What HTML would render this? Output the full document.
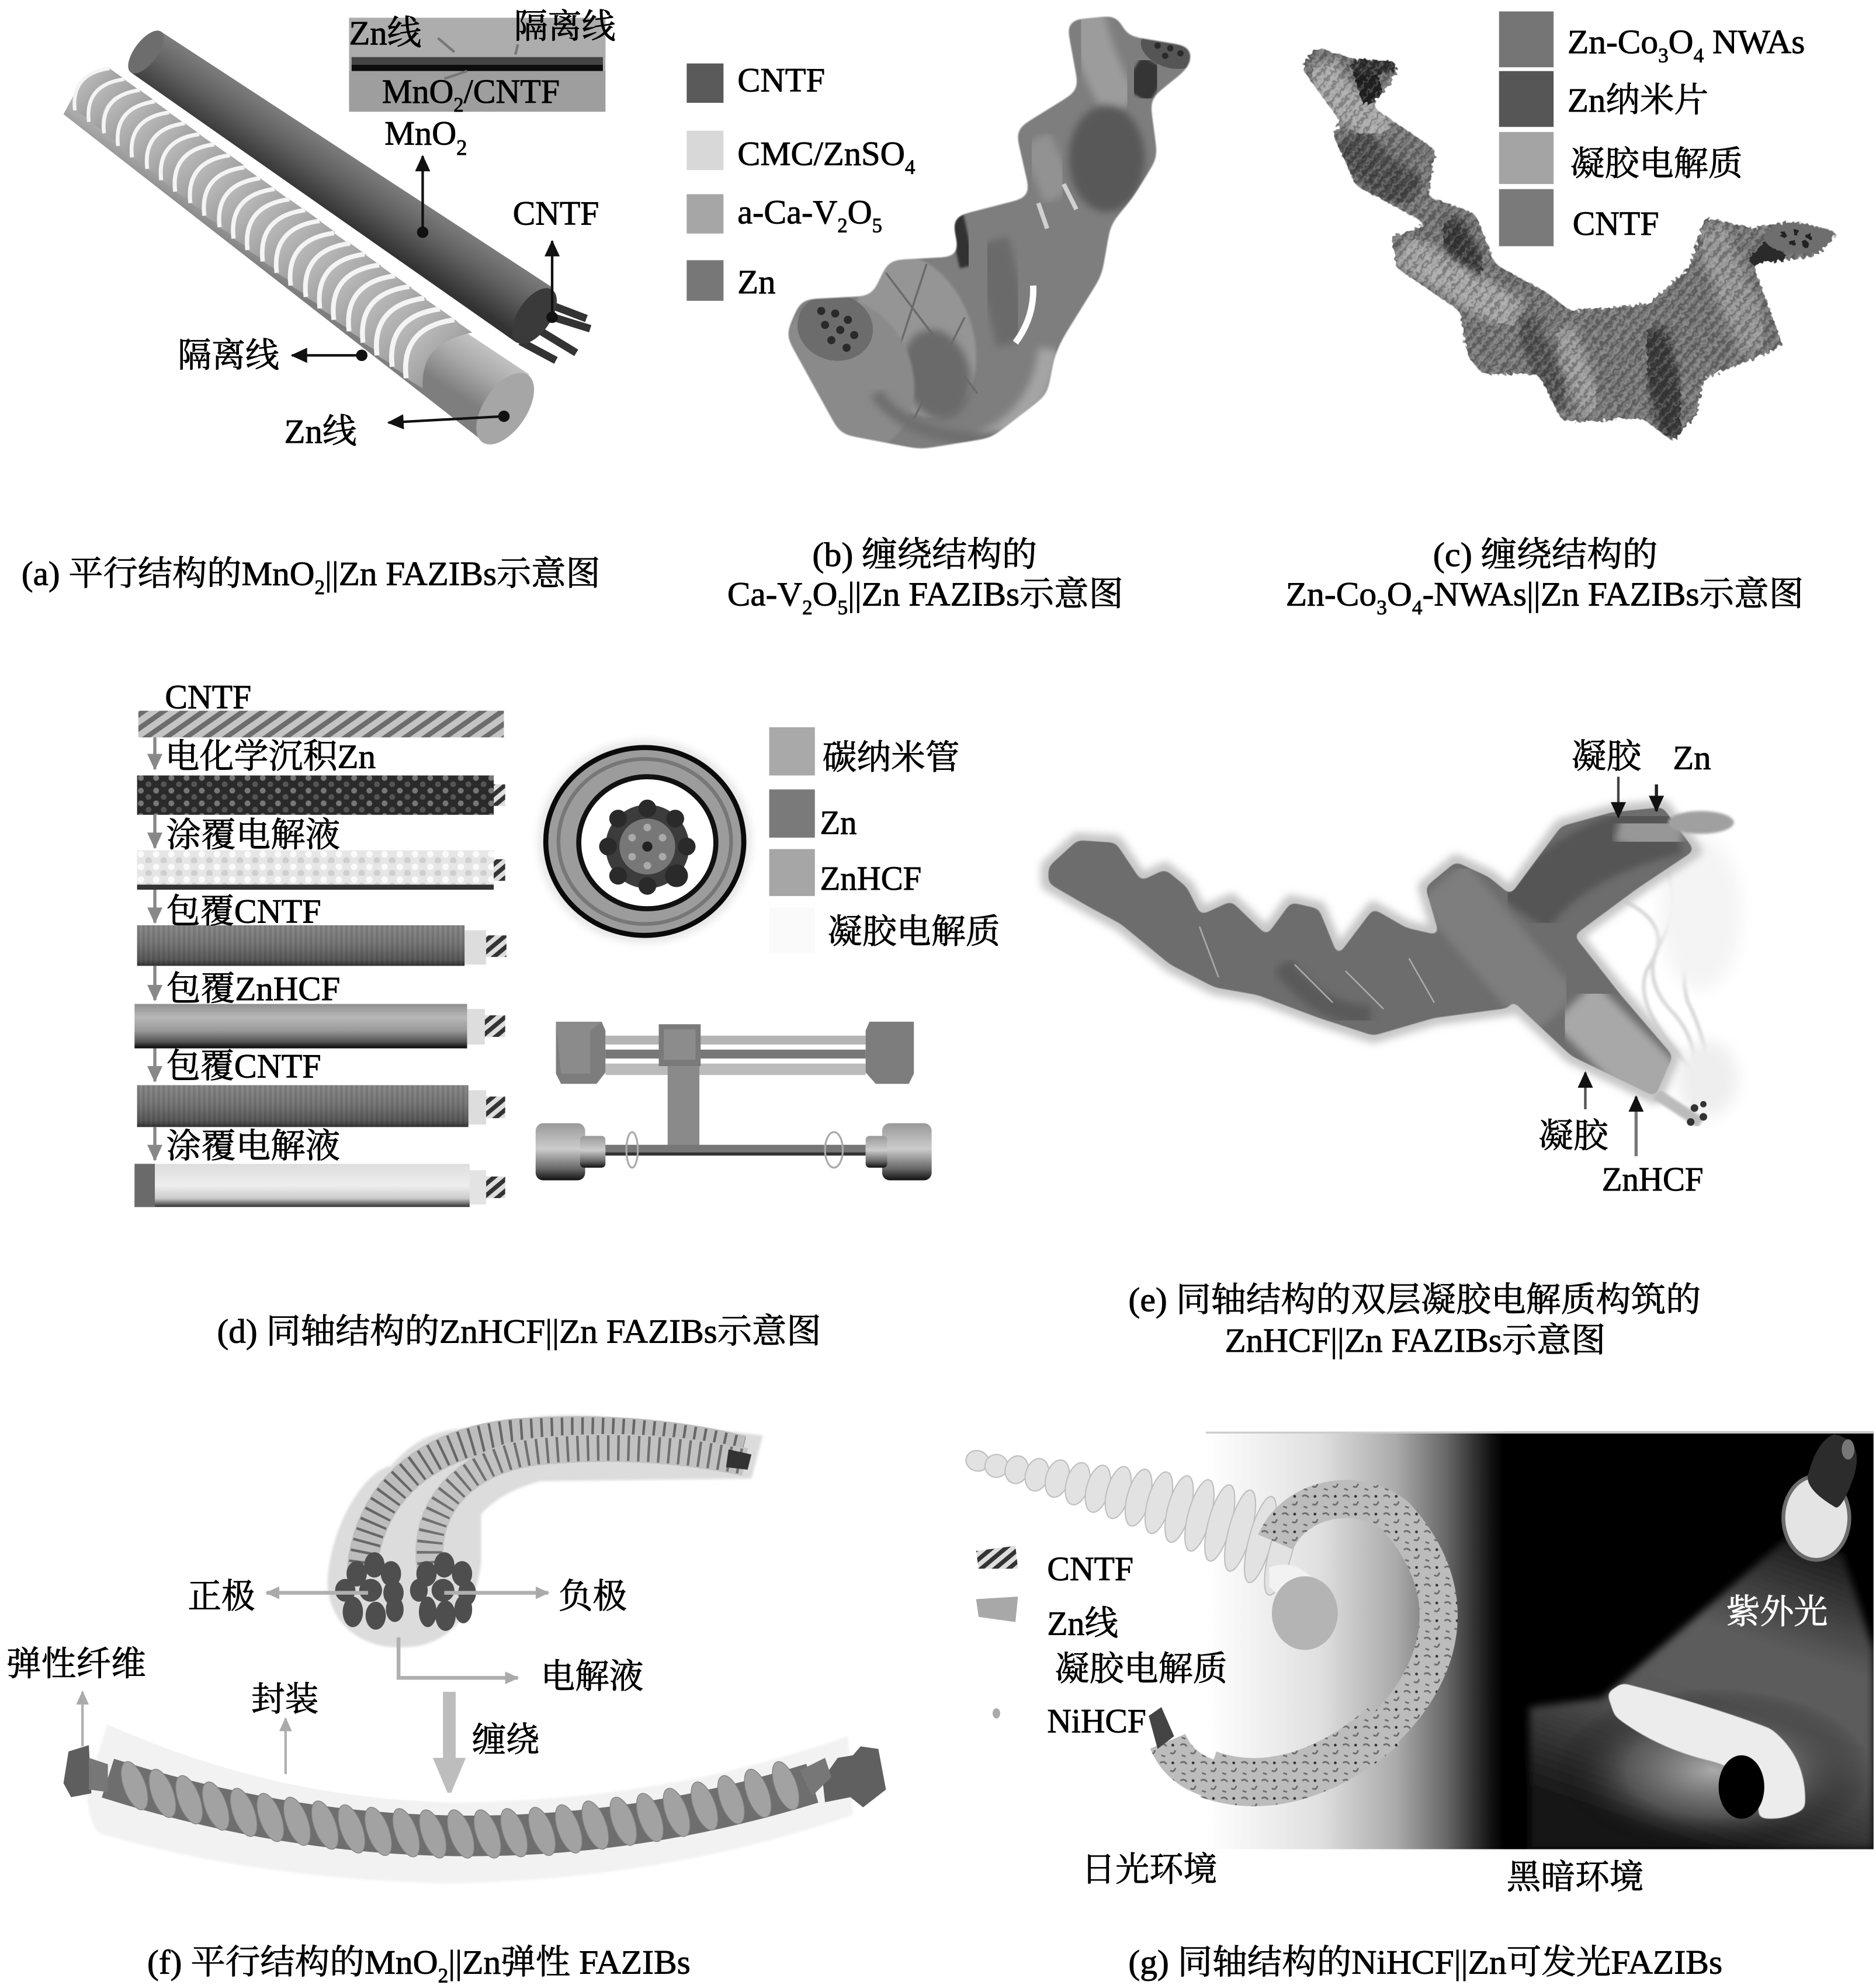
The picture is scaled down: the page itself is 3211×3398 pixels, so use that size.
<!DOCTYPE html>
<html><head><meta charset="utf-8"><style>
html,body{margin:0;padding:0;background:#fff}
svg{display:block}
text{font-family:"Liberation Serif","Noto Serif CJK SC",serif;fill:#000;stroke:#000;stroke-width:.42;font-size:27px}
</style></head><body>
<svg xmlns="http://www.w3.org/2000/svg" width="3211" height="3398" viewBox="0 0 1478 1564" preserveAspectRatio="none">
<defs>
<marker id="aK" markerUnits="userSpaceOnUse" markerWidth="14" markerHeight="12" refX="12" refY="6" orient="auto"><path d="M0,0L13,6L0,12Z" fill="#111"/></marker>
<marker id="aG" markerUnits="userSpaceOnUse" markerWidth="12" markerHeight="10" refX="10" refY="5" orient="auto"><path d="M0,0L11,5L0,10Z" fill="#aaa"/></marker>
<marker id="aD" markerUnits="userSpaceOnUse" markerWidth="14" markerHeight="12" refX="12" refY="6" orient="auto"><path d="M0,0L13,6L0,12Z" fill="#888"/></marker>
<marker id="dot" markerUnits="userSpaceOnUse" markerWidth="10" markerHeight="10" refX="5" refY="5"><circle cx="5" cy="5" r="4.5" fill="#111"/></marker>
<linearGradient id="cylD" gradientUnits="userSpaceOnUse" x1="281" y1="125" x2="255" y2="165"><stop offset="0" stop-color="#7d7d7d"/><stop offset=".45" stop-color="#606060"/><stop offset="1" stop-color="#333"/></linearGradient>
<linearGradient id="cylZ" gradientUnits="userSpaceOnUse" x1="241" y1="178" x2="215" y2="219"><stop offset="0" stop-color="#c6c6c6"/><stop offset=".5" stop-color="#a8a8a8"/><stop offset="1" stop-color="#7e7e7e"/></linearGradient>
<linearGradient id="ribF" x1="0" y1="0" x2="1" y2="1"><stop offset="0" stop-color="#c8c8c8"/><stop offset="1" stop-color="#848484"/></linearGradient>
<g id="rib"><path d="M0,0C-3,-25 8,-42 38,-46L52,-36C26,-30 12,-20 13,8Z" fill="url(#ribF)"/><path d="M0,0C-3,-25 8,-42 38,-46" fill="none" stroke="#f4f4f4" stroke-width="4"/></g>
<linearGradient id="rodD" x1="0" y1="0" x2="0" y2="1"><stop offset="0" stop-color="#8a8a8a"/><stop offset=".45" stop-color="#787878"/><stop offset=".85" stop-color="#5a5a5a"/><stop offset="1" stop-color="#333"/></linearGradient>
<linearGradient id="rodH" x1="0" y1="0" x2="0" y2="1"><stop offset="0" stop-color="#8f8f8f"/><stop offset=".3" stop-color="#b8b8b8"/><stop offset=".6" stop-color="#999"/><stop offset=".85" stop-color="#555"/><stop offset="1" stop-color="#050505"/></linearGradient>
<linearGradient id="rodC" x1="0" y1="0" x2="0" y2="1"><stop offset="0" stop-color="#ddd"/><stop offset=".5" stop-color="#eee"/><stop offset=".8" stop-color="#ccc"/><stop offset=".93" stop-color="#666"/><stop offset="1" stop-color="#333"/></linearGradient>
<linearGradient id="wheel" x1="0" y1="0" x2="0" y2="1"><stop offset="0" stop-color="#999"/><stop offset=".45" stop-color="#ccc"/><stop offset=".8" stop-color="#666"/><stop offset="1" stop-color="#111"/></linearGradient>
<linearGradient id="bgG" gradientUnits="userSpaceOnUse" x1="950" y1="0" x2="1185" y2="0"><stop offset="0" stop-color="#fff"/><stop offset=".38" stop-color="#e0e0e0"/><stop offset=".64" stop-color="#aaa"/><stop offset=".81" stop-color="#666"/><stop offset=".96" stop-color="#111"/><stop offset="1" stop-color="#000"/></linearGradient>
<linearGradient id="coneG" gradientUnits="userSpaceOnUse" x1="1425" y1="1210" x2="1340" y2="1457"><stop offset="0" stop-color="#181818"/><stop offset=".35" stop-color="#5c5c5c"/><stop offset=".6" stop-color="#5a5a5a"/><stop offset="1" stop-color="#161616"/></linearGradient>
<radialGradient id="glow"><stop offset="0" stop-color="#aaa"/><stop offset=".55" stop-color="#666" stop-opacity=".7"/><stop offset="1" stop-color="#000" stop-opacity="0"/></radialGradient>
<pattern id="hatch" width="9" height="9" patternUnits="userSpaceOnUse" patternTransform="rotate(55)"><rect width="9" height="9" fill="#c4c4c4"/><rect width="4" height="9" fill="#6c6c6c"/></pattern>
<pattern id="hatch2" width="7" height="7" patternUnits="userSpaceOnUse" patternTransform="rotate(50)"><rect width="7" height="7" fill="#ddd"/><rect width="3.4" height="7" fill="#333"/></pattern>
<pattern id="znp" width="12" height="10" patternUnits="userSpaceOnUse"><rect width="12" height="10" fill="#2a2a2a"/><circle cx="3" cy="3" r="2.3" fill="#777"/><circle cx="9" cy="8" r="2.3" fill="#555"/></pattern>
<pattern id="znl" width="12" height="10" patternUnits="userSpaceOnUse"><rect width="12" height="10" fill="#e6e6e6"/><circle cx="3" cy="3" r="2.6" fill="#fafafa"/><circle cx="9" cy="8" r="2.6" fill="#cfcfcf"/></pattern>
<pattern id="fine" width="4" height="4" patternUnits="userSpaceOnUse"><rect width="2" height="4" fill="#000" opacity=".1"/></pattern>
<pattern id="hairs" width="7" height="7" patternUnits="userSpaceOnUse" patternTransform="rotate(40)"><rect width="2" height="7" fill="#000" opacity=".22"/><rect x="4" width="1.5" height="7" fill="#fff" opacity=".16"/></pattern>
<pattern id="ringT" width="16" height="14" patternUnits="userSpaceOnUse"><rect width="16" height="14" fill="#bcbcbc"/><path d="M2,3q3,-2 5,1M10,9q3,2 4,-2M3,11l3,1" stroke="#6c6c6c" stroke-width="1.3" fill="none"/><circle cx="12" cy="3" r="1.1" fill="#333"/></pattern>
<filter id="b1" x="-10%" y="-10%" width="120%" height="120%"><feGaussianBlur stdDeviation="1"/></filter>
<filter id="b3" x="-10%" y="-10%" width="120%" height="120%"><feGaussianBlur stdDeviation="3"/></filter>
<filter id="b5" x="-20%" y="-20%" width="140%" height="140%"><feGaussianBlur stdDeviation="6"/></filter>
<filter id="smooth" x="-10%" y="-10%" width="120%" height="120%"><feGaussianBlur stdDeviation="6"/><feComponentTransfer><feFuncA type="linear" slope="10" intercept="-4.5"/></feComponentTransfer></filter>
<filter id="smallS" x="-10%" y="-10%" width="120%" height="120%"><feGaussianBlur stdDeviation="3"/><feComponentTransfer><feFuncA type="linear" slope="8" intercept="-3.5"/></feComponentTransfer></filter>
<filter id="jag" x="-5%" y="-5%" width="110%" height="110%"><feTurbulence type="fractalNoise" baseFrequency=".35" numOctaves="1" seed="3"/><feDisplacementMap in="SourceGraphic" scale="6"/></filter>
<path id="sb" d="M840,16L881,12L887,28L940,37L937,53L906,78L912,124L893,155L875,177L868,217L837,267L831,280L825,311L781,345L725,354L662,342L619,264L631,236L687,233L700,205L756,202L750,171L812,155L800,102L850,71Z"/>
<path id="sc" d="M1025,53L1037,37L1068,47L1100,48L1100,59L1081,84L1131,118L1125,155L1162,168L1178,208L1218,230L1237,245L1275,242L1299,239L1331,211L1343,171L1381,180L1412,174L1449,183L1431,202L1381,208L1405,273L1343,298L1337,326L1318,348L1293,329L1256,332L1231,332L1212,295L1168,295L1156,280L1150,245L1100,211L1096,186L1125,177L1068,146L1050,106L1056,96Z"/>
<path id="se" d="M826,683L849,662L879,664L899,694L918,685L935,699L946,721L970,710L998,737L1017,711L1039,716L1054,753L1082,716L1108,731L1134,737L1123,699L1147,679L1173,691L1190,705L1230,651L1270,640L1310,636L1335,670L1290,700L1240,737L1277,784L1318,832L1304,864L1238,832L1190,787L1190,794L1130,802L1082,816L1039,802L991,784L957,778L922,760L883,728L857,714L826,696Z"/>
<mask id="mb" maskUnits="userSpaceOnUse" x="580" y="0" width="400" height="380"><use href="#sb" fill="#fff" filter="url(#smooth)"/></mask>
<mask id="mc" maskUnits="userSpaceOnUse" x="1000" y="10" width="470" height="360"><use href="#sc" fill="#fff" filter="url(#smallS)"/></mask>
<mask id="me" maskUnits="userSpaceOnUse" x="800" y="610" width="560" height="280"><use href="#se" fill="#fff" filter="url(#smallS)"/></mask>
</defs>
<rect width="1478" height="1564" fill="#fff"/>

<!-- (a) -->
<g>
<path d="M65,62L417,295L381,348L50,90Z" fill="url(#cylZ)"/>
<use href="#rib" transform="translate(59,87) scale(.72)"/><use href="#rib" transform="translate(70,96) scale(.73)"/><use href="#rib" transform="translate(82,105) scale(.74)"/><use href="#rib" transform="translate(93,115) scale(.76)"/><use href="#rib" transform="translate(104,124) scale(.77)"/><use href="#rib" transform="translate(116,133) scale(.78)"/><use href="#rib" transform="translate(127,142) scale(.79)"/><use href="#rib" transform="translate(138,151) scale(.81)"/><use href="#rib" transform="translate(150,160) scale(.82)"/><use href="#rib" transform="translate(161,170) scale(.83)"/><use href="#rib" transform="translate(173,179) scale(.84)"/><use href="#rib" transform="translate(184,188) scale(.85)"/><use href="#rib" transform="translate(195,197) scale(.87)"/><use href="#rib" transform="translate(207,206) scale(.88)"/><use href="#rib" transform="translate(218,215) scale(.89)"/><use href="#rib" transform="translate(229,225) scale(.9)"/><use href="#rib" transform="translate(241,234) scale(.92)"/><use href="#rib" transform="translate(252,243) scale(.93)"/><use href="#rib" transform="translate(263,252) scale(.94)"/><use href="#rib" transform="translate(275,261) scale(.95)"/><use href="#rib" transform="translate(286,270) scale(.96)"/><use href="#rib" transform="translate(297,280) scale(.98)"/><use href="#rib" transform="translate(309,289) scale(.99)"/><use href="#rib" transform="translate(320,298)"/>
<ellipse cx="398" cy="322" rx="17" ry="32" transform="rotate(34 398 322)" fill="#a6a6a6"/>
<path d="M127,25L436,227L407,270L103,57Z" fill="url(#cylD)"/>
<ellipse cx="115" cy="41" rx="9" ry="20" transform="rotate(37 115 41)" fill="#6d6d6d"/>
<path d="M420,245L465,259M413,253L454,278M410,269L438,284M428,238L462,251" stroke="#333" stroke-width="6" fill="none"/>
<ellipse cx="421" cy="249" rx="13" ry="25" transform="rotate(34 421 249)" fill="#3a3a3a"/>
<rect x="275" y="14" width="202" height="74" fill="#a9a9a9"/>
<rect x="275" y="14" width="202" height="30" fill="#adadad"/>
<rect x="277" y="45" width="198" height="6" fill="#444"/>
<rect x="277" y="51" width="198" height="5" fill="#0c0c0c"/>
<rect x="275" y="56" width="202" height="32" fill="#9e9e9e"/>
<path d="M345,30L358,41M408,35L406,43M350,62L368,56" stroke="#777" stroke-width="2" fill="none"/>
<path d="M333,183L333,123" stroke="#111" stroke-width="2" fill="none" marker-start="url(#dot)" marker-end="url(#aK)"/>
<path d="M435,250L435,190" stroke="#111" stroke-width="2" fill="none" marker-start="url(#dot)" marker-end="url(#aK)"/>
<path d="M285,280L230,280" stroke="#111" stroke-width="2" fill="none" marker-start="url(#dot)" marker-end="url(#aK)"/>
<path d="M397,328L306,333" stroke="#111" stroke-width="2" fill="none" marker-start="url(#dot)" marker-end="url(#aK)"/>
<text x="275" y="35" textLength="57" lengthAdjust="spacingAndGlyphs">Zn线</text>
<text x="405" y="30" textLength="80" lengthAdjust="spacingAndGlyphs">隔离线</text>
<text x="301" y="81" textLength="140" lengthAdjust="spacingAndGlyphs">MnO<tspan dy="7" font-size="16">2</tspan><tspan dy="-7">/CNTF</tspan></text>
<text x="303" y="114" textLength="65" lengthAdjust="spacingAndGlyphs">MnO<tspan dy="8" font-size="17">2</tspan></text>
<text x="404" y="177" textLength="68" lengthAdjust="spacingAndGlyphs">CNTF</text>
<text x="140" y="289" textLength="80" lengthAdjust="spacingAndGlyphs">隔离线</text>
<text x="224" y="349" textLength="57" lengthAdjust="spacingAndGlyphs">Zn线</text>
<text x="17" y="461" textLength="456" lengthAdjust="spacingAndGlyphs">(a) 平行结构的MnO<tspan dy="7" font-size="16">2</tspan><tspan dy="-7">||Zn FAZIBs示意图</tspan></text>
</g>

<!-- (b) -->
<g>
<rect x="541" y="50" width="29" height="31" fill="#5a5a5a"/><rect x="541" y="103" width="29" height="31" fill="#d8d8d8"/><rect x="541" y="153" width="29" height="31" fill="#a6a6a6"/><rect x="541" y="205" width="29" height="32" fill="#777"/>
<text x="581" y="72" textLength="69" lengthAdjust="spacingAndGlyphs">CNTF</text>
<text x="581" y="130" textLength="140" lengthAdjust="spacingAndGlyphs">CMC/ZnSO<tspan dy="7" font-size="16">4</tspan></text>
<text x="581" y="176" textLength="114" lengthAdjust="spacingAndGlyphs">a-Ca-V<tspan dy="7" font-size="16">2</tspan><tspan dy="-7">O</tspan><tspan dy="7" font-size="16">5</tspan></text>
<text x="581" y="231" textLength="30" lengthAdjust="spacingAndGlyphs">Zn</text>
<g mask="url(#mb)">
<rect x="580" y="0" width="400" height="380" fill="#7e7e7e"/>
<path d="M855,10Q862,50 885,85" stroke="#9c9c9c" stroke-width="30" fill="none" filter="url(#b3)"/>
<ellipse cx="872" cy="125" rx="30" ry="42" fill="#585858" filter="url(#b3)"/>
<path d="M815,110Q825,130 835,155" stroke="#929292" stroke-width="26" fill="none" filter="url(#b3)"/>
<path d="M910,50L895,75" stroke="#363636" stroke-width="24" filter="url(#b1)"/>
<ellipse cx="921" cy="39" rx="23" ry="14" transform="rotate(20 921 39)" fill="#555"/>
<g fill="#2a2a2a"><circle cx="912" cy="36" r="2.5"/><circle cx="922" cy="38" r="2.5"/><circle cx="930" cy="42" r="2.5"/><circle cx="918" cy="44" r="2.5"/></g>
<path d="M752,165L762,210" stroke="#303030" stroke-width="12" filter="url(#b1)"/>
<path d="M780,190L800,270" stroke="#6a6a6a" stroke-width="30" filter="url(#b3)"/>
<ellipse cx="722" cy="265" rx="44" ry="66" transform="rotate(-20 722 265)" fill="#959595" filter="url(#b1)"/>
<path d="M698,215L770,310M730,208L700,300M760,250L720,330" stroke="#6a6a6a" stroke-width="1.6"/>
<ellipse cx="738" cy="295" rx="26" ry="36" transform="rotate(-15 738 295)" fill="#6a6a6a" filter="url(#b3)"/>
<ellipse cx="668" cy="295" rx="50" ry="62" transform="rotate(-25 668 295)" fill="#8a8a8a" filter="url(#b1)"/>
<path d="M770,350Q820,330 826,275" stroke="#a4a4a4" stroke-width="16" fill="none" filter="url(#b3)"/>
<path d="M690,310Q720,350 790,345" stroke="#6e6e6e" stroke-width="10" fill="none" filter="url(#b3)"/>
<ellipse cx="658" cy="258" rx="30" ry="26" transform="rotate(15 658 258)" fill="#6c6c6c"/>
<g fill="#2a2a2a"><circle cx="647" cy="245" r="3.2"/><circle cx="658" cy="247" r="3.2"/><circle cx="668" cy="252" r="3.2"/><circle cx="650" cy="256" r="3.2"/><circle cx="662" cy="260" r="3.2"/><circle cx="673" cy="264" r="3.2"/><circle cx="655" cy="268" r="3.2"/><circle cx="667" cy="274" r="3.2"/></g>
<path d="M800,270Q815,250 814,225" stroke="#fff" stroke-width="5" fill="none"/>
<path d="M838,145L848,165M818,160L825,180" stroke="#d0d0d0" stroke-width="3.5"/>
</g>
<text x="640" y="446" textLength="177" lengthAdjust="spacingAndGlyphs">(b) 缠绕结构的</text>
<text x="573" y="477" textLength="312" lengthAdjust="spacingAndGlyphs">Ca-V<tspan dy="7" font-size="16">2</tspan><tspan dy="-7">O</tspan><tspan dy="7" font-size="16">5</tspan><tspan dy="-7">||Zn FAZIBs示意图</tspan></text>
</g>

<!-- (c) -->
<g>
<rect x="1181" y="9" width="43" height="44" fill="#757575"/><rect x="1181" y="56" width="43" height="44" fill="#565656"/><rect x="1181" y="104" width="43" height="41" fill="#a4a4a4"/><rect x="1181" y="149" width="43" height="45" fill="#7a7a7a"/>
<text x="1235" y="42" textLength="187" lengthAdjust="spacingAndGlyphs">Zn-Co<tspan dy="7" font-size="16">3</tspan><tspan dy="-7">O</tspan><tspan dy="7" font-size="16">4</tspan><tspan dy="-7"> NWAs</tspan></text>
<text x="1235" y="88" textLength="111" lengthAdjust="spacingAndGlyphs">Zn纳米片</text>
<text x="1237" y="138" textLength="136" lengthAdjust="spacingAndGlyphs">凝胶电解质</text>
<text x="1239" y="185" textLength="68" lengthAdjust="spacingAndGlyphs">CNTF</text>
<g filter="url(#jag)">
<g mask="url(#mc)">
<rect x="1000" y="10" width="470" height="360" fill="#757575"/>
<path d="M1040,50Q1050,85 1095,100" stroke="#a6a6a6" stroke-width="28" fill="none" filter="url(#b3)"/>
<path d="M1075,55L1082,80" stroke="#222" stroke-width="18"/>
<ellipse cx="1082" cy="52" rx="18" ry="7" fill="#333"/>
<path d="M1060,110Q1095,145 1115,155" stroke="#505050" stroke-width="32" fill="none" filter="url(#b3)"/>
<path d="M1140,175L1165,225" stroke="#3a3a3a" stroke-width="24" filter="url(#b3)"/>
<path d="M1105,195Q1150,225 1195,250" stroke="#a2a2a2" stroke-width="28" fill="none" filter="url(#b3)"/>
<path d="M1170,245L1170,285" stroke="#303030" stroke-width="30" filter="url(#b3)"/>
<path d="M1230,260L1255,325" stroke="#9a9a9a" stroke-width="22" filter="url(#b3)"/>
<path d="M1200,250L1230,320" stroke="#555" stroke-width="20" filter="url(#b3)"/>
<path d="M1300,260L1322,345" stroke="#3e3e3e" stroke-width="26" filter="url(#b3)"/>
<path d="M1345,180L1385,275" stroke="#939393" stroke-width="28" filter="url(#b3)"/>
<rect x="1000" y="10" width="470" height="360" fill="url(#hairs)"/>
<path d="M1385,212L1400,195" stroke="#2a2a2a" stroke-width="22"/>
<ellipse cx="1418" cy="187" rx="28" ry="13" fill="#6e6e6e"/>
<g fill="#222"><circle cx="1405" cy="185" r="2.5"/><circle cx="1415" cy="183" r="2.5"/><circle cx="1425" cy="186" r="2.5"/><circle cx="1412" cy="191" r="2.5"/><circle cx="1422" cy="192" r="2.5"/></g>
</g>
</g>
<text x="1129" y="446" textLength="177" lengthAdjust="spacingAndGlyphs">(c) 缠绕结构的</text>
<text x="1013" y="477" textLength="408" lengthAdjust="spacingAndGlyphs">Zn-Co<tspan dy="7" font-size="16">3</tspan><tspan dy="-7">O</tspan><tspan dy="7" font-size="16">4</tspan><tspan dy="-7">-NWAs||Zn FAZIBs示意图</tspan></text>
</g>

<!-- (d) -->
<g>
<rect x="109" y="560" width="288" height="21" fill="url(#hatch)"/>
<rect x="381" y="618" width="17" height="17" fill="url(#hatch2)"/><rect x="108" y="611" width="281" height="31" fill="url(#znp)"/>
<rect x="381" y="677" width="17" height="17" fill="url(#hatch2)"/><rect x="108" y="670" width="281" height="27" fill="url(#znl)"/><rect x="108" y="697" width="281" height="4" fill="#333"/>
<rect x="380" y="737" width="19" height="17" fill="url(#hatch2)"/><rect x="365" y="733" width="18" height="27" fill="#ddd"/><rect x="108" y="729" width="258" height="32" fill="url(#rodD)"/><rect x="108" y="729" width="258" height="32" fill="url(#fine)"/>
<rect x="380" y="800" width="18" height="17" fill="url(#hatch2)"/><rect x="367" y="795" width="15" height="28" fill="#ddd"/><rect x="106" y="791" width="262" height="35" fill="url(#rodH)"/>
<rect x="380" y="864" width="18" height="17" fill="url(#hatch2)"/><rect x="368" y="859" width="15" height="27" fill="#ddd"/><rect x="108" y="855" width="261" height="33" fill="url(#rodD)"/><rect x="108" y="855" width="261" height="33" fill="url(#fine)"/>
<rect x="380" y="927" width="18" height="17" fill="url(#hatch2)"/><rect x="368" y="922" width="15" height="27" fill="#e3e3e3"/><rect x="106" y="917" width="264" height="34" fill="url(#rodC)"/><rect x="106" y="917" width="16" height="34" fill="#6a6a6a"/>
<g stroke="#888" stroke-width="2.5" fill="none"><path d="M122,581V606" marker-end="url(#aD)"/><path d="M122,642V668" marker-end="url(#aD)"/><path d="M122,701V727" marker-end="url(#aD)"/><path d="M122,761V788" marker-end="url(#aD)"/><path d="M122,826V852" marker-end="url(#aD)"/><path d="M122,888V914" marker-end="url(#aD)"/></g>
<text x="130" y="558" textLength="68" lengthAdjust="spacingAndGlyphs">CNTF</text>
<text x="130" y="605" textLength="166" lengthAdjust="spacingAndGlyphs">电化学沉积Zn</text>
<text x="131" y="667" textLength="137" lengthAdjust="spacingAndGlyphs">涂覆电解液</text>
<text x="131" y="727" textLength="122" lengthAdjust="spacingAndGlyphs">包覆CNTF</text>
<text x="131" y="788" textLength="137" lengthAdjust="spacingAndGlyphs">包覆ZnHCF</text>
<text x="131" y="849" textLength="122" lengthAdjust="spacingAndGlyphs">包覆CNTF</text>
<text x="131" y="912" textLength="137" lengthAdjust="spacingAndGlyphs">涂覆电解液</text>
<ellipse cx="508" cy="663" rx="84" ry="80" fill="#e6e6e6" filter="url(#b3)"/>
<ellipse cx="508" cy="663" rx="78" ry="74" fill="#9c9c9c" stroke="#0a0a0a" stroke-width="4"/>
<ellipse cx="508" cy="663" rx="68" ry="65" fill="none" stroke="#777" stroke-width="3"/>
<ellipse cx="510" cy="664" rx="54" ry="52" fill="#fff" stroke="#111" stroke-width="4"/>
<circle cx="510" cy="667" r="33" fill="#3c3c3c"/>
<circle cx="510" cy="667" r="22" fill="#777"/>
<g fill="#2a2a2a"><circle cx="510" cy="637" r="7"/><circle cx="532" cy="645" r="7"/><circle cx="541" cy="667" r="7"/><circle cx="533" cy="690" r="9"/><circle cx="510" cy="698" r="7"/><circle cx="487" cy="690" r="7"/><circle cx="479" cy="667" r="7"/><circle cx="487" cy="645" r="7"/></g>
<g fill="#aaa"><circle cx="510" cy="652" r="3"/><circle cx="522" cy="660" r="3"/><circle cx="522" cy="675" r="3"/><circle cx="510" cy="682" r="3"/><circle cx="498" cy="675" r="3"/><circle cx="498" cy="660" r="3"/></g>
<circle cx="510" cy="667" r="4" fill="#222"/>
<rect x="606" y="573" width="36" height="38" fill="#a9a9a9"/><rect x="606" y="622" width="36" height="38" fill="#7a7a7a"/><rect x="606" y="669" width="36" height="37" fill="#a6a6a6"/><rect x="606" y="715" width="36" height="36" fill="#fafafa"/>
<text x="648" y="606" textLength="108" lengthAdjust="spacingAndGlyphs">碳纳米管</text>
<text x="646" y="657" textLength="29" lengthAdjust="spacingAndGlyphs">Zn</text>
<text x="646" y="701" textLength="80" lengthAdjust="spacingAndGlyphs">ZnHCF</text>
<text x="652" y="743" textLength="136" lengthAdjust="spacingAndGlyphs">凝胶电解质</text>
<rect x="477" y="816" width="205" height="7" fill="#b5b5b5"/><rect x="477" y="827" width="205" height="7" fill="#777"/><rect x="477" y="838" width="205" height="9" fill="#bbb"/>
<path d="M438,805H474L477,812V845L470,854H442L438,846Z" fill="#7d7d7d"/><path d="M438,805H474L465,812V846H442Z" fill="#8b8b8b"/>
<path d="M720,805H685L682,812V845L690,854H716L720,846Z" fill="#7d7d7d"/>
<rect x="519" y="807" width="33" height="33" fill="#7a7a7a"/><rect x="523" y="811" width="25" height="24" fill="#8c8c8c"/>
<rect x="526" y="840" width="25" height="64" fill="#8a8a8a"/>
<rect x="475" y="902" width="207" height="8" fill="#777"/><rect x="475" y="908" width="207" height="2.5" fill="#333"/>
<rect x="422" y="885" width="39" height="45" rx="6" fill="url(#wheel)"/><rect x="457" y="895" width="20" height="25" rx="3" fill="url(#wheel)"/>
<rect x="695" y="885" width="39" height="45" rx="6" fill="url(#wheel)"/><rect x="682" y="895" width="17" height="25" rx="3" fill="url(#wheel)"/>
<ellipse cx="498" cy="906" rx="4.5" ry="14" fill="none" stroke="#aaa" stroke-width="1.5"/><ellipse cx="657" cy="906" rx="7" ry="14" fill="none" stroke="#aaa" stroke-width="1.5"/>
<text x="171" y="1058" textLength="476" lengthAdjust="spacingAndGlyphs">(d) 同轴结构的ZnHCF||Zn FAZIBs示意图</text>
</g>

<!-- (e) -->
<g>
<g stroke="#d8d8d8" stroke-width="3" fill="none" filter="url(#b1)"><path d="M1300,665Q1330,700 1310,740Q1290,770 1320,800Q1345,830 1332,880"/><path d="M1320,665Q1350,700 1345,720Q1320,760 1330,790Q1350,830 1345,870"/><path d="M1280,710Q1320,730 1300,760T1340,850"/></g>
<ellipse cx="1340" cy="720" rx="32" ry="60" fill="#f4f4f4" filter="url(#b5)"/>
<ellipse cx="1345" cy="850" rx="24" ry="30" fill="#eee" filter="url(#b5)"/>
<use href="#se" fill="#c6c6c6" stroke="#c6c6c6" stroke-width="12" stroke-linejoin="round" filter="url(#b3)"/>
<g mask="url(#me)">
<rect x="800" y="610" width="560" height="280" fill="#6d6d6d"/>
<path d="M1200,720Q1235,670 1320,650" stroke="#555" stroke-width="46" fill="none" filter="url(#b3)"/>
<path d="M1275,650L1325,662" stroke="#979797" stroke-width="28" filter="url(#b3)"/>
<path d="M1135,695L1225,800" stroke="#7e7e7e" stroke-width="50" filter="url(#b3)"/>
<path d="M1240,790L1310,860" stroke="#a8a8a8" stroke-width="46" filter="url(#b3)"/>
<path d="M1010,760Q1040,800 1080,800" stroke="#5a5a5a" stroke-width="16" fill="none" filter="url(#b3)"/>
<g fill="none" stroke="#aaa" stroke-width="1.2"><path d="M1020,760L1050,790M1060,765L1090,795M1110,755L1130,790M945,730L960,770"/></g>
</g>
<ellipse cx="1340" cy="648" rx="26" ry="9" fill="#a0a0a0" filter="url(#b1)"/>
<path d="M1305,862L1340,885" stroke="#bbb" stroke-width="9" filter="url(#b1)"/>
<g fill="#333"><circle cx="1335" cy="873" r="3"/><circle cx="1342" cy="880" r="3"/><circle cx="1332" cy="884" r="3"/><circle cx="1342" cy="870" r="2.5"/></g>
<path d="M1275,612V644" stroke="#444" stroke-width="2" marker-end="url(#aK)"/><path d="M1305,618V639" stroke="#222" stroke-width="2.5" marker-end="url(#aK)"/>
<path d="M1249,874V845" stroke="#555" stroke-width="2" marker-end="url(#aK)"/><path d="M1289,911V864" stroke="#777" stroke-width="2.5" marker-end="url(#aK)"/>
<text x="1238" y="605" textLength="55" lengthAdjust="spacingAndGlyphs">凝胶</text>
<text x="1318" y="606" textLength="30" lengthAdjust="spacingAndGlyphs">Zn</text>
<text x="1212" y="904" textLength="55" lengthAdjust="spacingAndGlyphs">凝胶</text>
<text x="1262" y="938" textLength="80" lengthAdjust="spacingAndGlyphs">ZnHCF</text>
<text x="889" y="1033" textLength="451" lengthAdjust="spacingAndGlyphs">(e) 同轴结构的双层凝胶电解质构筑的</text>
<text x="965" y="1065" textLength="300" lengthAdjust="spacingAndGlyphs">ZnHCF||Zn FAZIBs示意图</text>
</g>

<!-- (f) -->
<g>
<path d="M258,1246C260,1205 285,1160 308,1155C330,1130 350,1125 379,1125Q420,1112 473,1116L601,1131L592,1165L426,1167Q395,1175 379,1193L379,1232Q370,1298 315,1298C280,1298 258,1275 258,1246Z" fill="#dcdcdc" filter="url(#b1)"/>
<path d="M285,1240C288,1190 320,1140 402,1130Q500,1122 585,1143" stroke="#bdbdbd" stroke-width="24" fill="none"/>
<path d="M285,1240C288,1190 320,1140 402,1130Q500,1122 585,1143" stroke="#666" stroke-width="22" stroke-dasharray="2 6" fill="none"/>
<path d="M340,1240C330,1190 365,1148 430,1143Q510,1136 587,1152" stroke="#c2c2c2" stroke-width="22" fill="none"/>
<path d="M340,1240C330,1190 365,1148 430,1143Q510,1136 587,1152" stroke="#707070" stroke-width="20" stroke-dasharray="2 6" fill="none"/>
<path d="M574,1142L592,1146L589,1158L572,1156Z" fill="#333"/>
<g fill="#4e4e4e"><ellipse cx="281" cy="1240" rx="8" ry="10"/><ellipse cx="295" cy="1233" rx="8" ry="10"/><ellipse cx="308" cy="1240" rx="8" ry="10"/><ellipse cx="272" cy="1253" rx="8" ry="9"/><ellipse cx="310" cy="1255" rx="8" ry="10"/><ellipse cx="278" cy="1270" rx="8" ry="12"/><ellipse cx="296" cy="1273" rx="8" ry="11"/><ellipse cx="311" cy="1268" rx="7" ry="10"/><circle cx="292" cy="1253" r="9"/>
<ellipse cx="336" cy="1240" rx="8" ry="10"/><ellipse cx="350" cy="1233" rx="8" ry="10"/><ellipse cx="364" cy="1240" rx="8" ry="10"/><ellipse cx="330" cy="1253" rx="7" ry="9"/><ellipse cx="368" cy="1255" rx="7" ry="10"/><ellipse cx="337" cy="1270" rx="7" ry="12"/><ellipse cx="351" cy="1273" rx="8" ry="12"/><ellipse cx="365" cy="1268" rx="7" ry="11"/><circle cx="349" cy="1253" r="9"/></g>
<g stroke="#b0b0b0" stroke-width="3" fill="none"><path d="M290,1255H210" marker-end="url(#aG)"/><path d="M350,1255H432" marker-end="url(#aG)"/><path d="M314,1290V1322H408" marker-end="url(#aG)"/></g>
<g stroke="#b0b0b0" stroke-width="2" fill="none"><path d="M225,1408V1354" marker-end="url(#aG)"/><path d="M65,1376V1333" marker-end="url(#aG)"/></g>
<path d="M349,1333H359V1385H367L354,1416L341,1385H349Z" fill="#bdbdbd"/>
<text x="148" y="1267" textLength="53" lengthAdjust="spacingAndGlyphs">正极</text>
<text x="440" y="1267" textLength="54" lengthAdjust="spacingAndGlyphs">负极</text>
<text x="426" y="1330" textLength="81" lengthAdjust="spacingAndGlyphs">电解液</text>
<text x="5" y="1320" textLength="110" lengthAdjust="spacingAndGlyphs">弹性纤维</text>
<text x="198" y="1348" textLength="53" lengthAdjust="spacingAndGlyphs">封装</text>
<text x="372" y="1380" textLength="53" lengthAdjust="spacingAndGlyphs">缠绕</text>
<path d="M68,1410Q70,1440 80,1445Q200,1480 350,1484Q520,1482 672,1430L668,1368Q520,1420 355,1420Q220,1415 85,1358Z" fill="#f2f2f2" filter="url(#b1)"/>
<path d="M85,1355Q220,1415 355,1416Q520,1416 662,1348" fill="none" stroke="#fff" stroke-width="7"/>
<path d="M85,1401Q365,1490 640,1405" fill="none" stroke="#6e6e6e" stroke-width="32"/>
<g fill="#a2a2a2" stroke="#808080" stroke-width=".6"><ellipse cx="106" cy="1407" rx="8.5" ry="20" transform="rotate(-20 106 1407)"/><ellipse cx="128" cy="1413" rx="8.5" ry="20" transform="rotate(-20 128 1413)"/><ellipse cx="149" cy="1418" rx="8.5" ry="20" transform="rotate(-20 149 1418)"/><ellipse cx="170" cy="1423" rx="8.5" ry="20" transform="rotate(-20 170 1423)"/><ellipse cx="192" cy="1428" rx="8.5" ry="20" transform="rotate(-20 192 1428)"/><ellipse cx="213" cy="1432" rx="8.5" ry="20" transform="rotate(-20 213 1432)"/><ellipse cx="234" cy="1435" rx="8.5" ry="20" transform="rotate(-20 234 1435)"/><ellipse cx="256" cy="1438" rx="8.5" ry="20" transform="rotate(-20 256 1438)"/><ellipse cx="277" cy="1441" rx="8.5" ry="20" transform="rotate(-20 277 1441)"/><ellipse cx="298" cy="1443" rx="8.5" ry="20" transform="rotate(-20 298 1443)"/><ellipse cx="320" cy="1444" rx="8.5" ry="20" transform="rotate(-20 320 1444)"/><ellipse cx="341" cy="1445" rx="8.5" ry="20" transform="rotate(-20 341 1445)"/><ellipse cx="363" cy="1445" rx="8.5" ry="20" transform="rotate(-20 363 1445)"/><ellipse cx="384" cy="1445" rx="8.5" ry="20" transform="rotate(-20 384 1445)"/><ellipse cx="405" cy="1444" rx="8.5" ry="20" transform="rotate(-20 405 1444)"/><ellipse cx="427" cy="1443" rx="8.5" ry="20" transform="rotate(-20 427 1443)"/><ellipse cx="448" cy="1441" rx="8.5" ry="20" transform="rotate(-20 448 1441)"/><ellipse cx="469" cy="1438" rx="8.5" ry="20" transform="rotate(-20 469 1438)"/><ellipse cx="491" cy="1435" rx="8.5" ry="20" transform="rotate(-20 491 1435)"/><ellipse cx="512" cy="1432" rx="8.5" ry="20" transform="rotate(-20 512 1432)"/><ellipse cx="533" cy="1428" rx="8.5" ry="20" transform="rotate(-20 533 1428)"/><ellipse cx="555" cy="1423" rx="8.5" ry="20" transform="rotate(-20 555 1423)"/><ellipse cx="576" cy="1418" rx="8.5" ry="20" transform="rotate(-20 576 1418)"/><ellipse cx="597" cy="1413" rx="8.5" ry="20" transform="rotate(-20 597 1413)"/><ellipse cx="619" cy="1407" rx="8.5" ry="20" transform="rotate(-20 619 1407)"/></g>
<path d="M54,1380L70,1375L72,1413L56,1416L50,1405Z" fill="#5e5e5e"/><path d="M70,1385L85,1390V1412L70,1410Z" fill="#777"/>
<path d="M648,1402L660,1385L672,1383L678,1376L692,1378L698,1410L680,1424L670,1416L650,1420Z" fill="#606060"/><path d="M630,1395L650,1385L655,1400L640,1415Z" fill="#777"/>
<text x="116" y="1555" textLength="428" lengthAdjust="spacingAndGlyphs">(f) 平行结构的MnO<tspan dy="7" font-size="16">2</tspan><tspan dy="-7">||Zn弹性 FAZIBs</tspan></text>
</g>

<!-- (g) -->
<g>
<rect x="950" y="1128" width="526" height="329" fill="url(#bgG)"/>
<rect x="1185" y="1128" width="291" height="329" fill="#000"/>
<rect x="950" y="1128" width="526" height="1.5" fill="#ccc"/>
<clipPath id="cg"><rect x="1185" y="1128" width="291" height="329"/></clipPath>
<g clip-path="url(#cg)">
<path d="M1410,1210L1262,1338L1205,1345V1457H1476V1300L1452,1225Z" fill="url(#coneG)" filter="url(#b3)"/>
<ellipse cx="1350" cy="1395" rx="125" ry="65" fill="url(#glow)"/>
</g>
<ellipse cx="1431" cy="1196" rx="26" ry="33" fill="#e4e4e4" stroke="#6c6c6c" stroke-width="3"/>
<path d="M1445,1130Q1470,1135 1460,1165Q1450,1192 1445,1187Q1420,1172 1425,1160Q1432,1135 1445,1130Z" fill="#2c2c2c"/>
<ellipse cx="1456" cy="1142" rx="5" ry="8" fill="#777"/>
<path d="M1266,1334L1278,1326Q1345,1343 1395,1362Q1425,1385 1422,1425Q1405,1436 1385,1432Q1390,1400 1350,1388Q1305,1378 1272,1352Z" fill="#ececec" filter="url(#smallS)"/>
<ellipse cx="1372" cy="1408" rx="18" ry="25" fill="#000"/>
<g fill="#e2e2e2" stroke="#c0c0c0" stroke-width="1"><ellipse cx="770" cy="1151" rx="9" ry="8" transform="rotate(15 770 1151)"/><ellipse cx="785" cy="1155" rx="9" ry="9" transform="rotate(15 785 1155)"/><ellipse cx="801" cy="1158" rx="9" ry="11" transform="rotate(15 801 1158)"/><ellipse cx="817" cy="1162" rx="9" ry="13" transform="rotate(15 817 1162)"/><ellipse cx="833" cy="1165" rx="9" ry="15" transform="rotate(15 833 1165)"/><ellipse cx="849" cy="1169" rx="9" ry="17" transform="rotate(15 849 1169)"/><ellipse cx="865" cy="1173" rx="9" ry="19" transform="rotate(15 865 1173)"/><ellipse cx="881" cy="1176" rx="9" ry="21" transform="rotate(15 881 1176)"/><ellipse cx="897" cy="1180" rx="9" ry="23" transform="rotate(15 897 1180)"/><ellipse cx="913" cy="1184" rx="9" ry="25" transform="rotate(15 913 1184)"/><ellipse cx="929" cy="1189" rx="9" ry="27" transform="rotate(15 929 1189)"/><ellipse cx="945" cy="1194" rx="9" ry="29" transform="rotate(15 945 1194)"/><ellipse cx="961" cy="1200" rx="9" ry="31" transform="rotate(15 961 1200)"/><ellipse cx="977" cy="1206" rx="9" ry="33" transform="rotate(15 977 1206)"/><ellipse cx="993" cy="1213" rx="9" ry="35" transform="rotate(15 993 1213)"/><ellipse cx="1009" cy="1222" rx="9" ry="36" transform="rotate(15 1009 1222)"/></g>
<path d="M1000,1235C1025,1225 1045,1250 1052,1280L1040,1290L1000,1250Z" fill="#f2f2f2"/>
<ellipse cx="1028" cy="1271" rx="26" ry="29" fill="#b4b4b4"/>
<path d="M1005,1215C1020,1180 1070,1170 1100,1195C1140,1240 1145,1290 1110,1340C1070,1395 1000,1420 950,1400C934,1394 925,1384 920,1372" stroke="url(#ringT)" stroke-width="30" fill="none"/>
<path d="M1090,1360C1050,1395 1000,1415 952,1398" stroke="url(#ringT)" stroke-width="38" fill="none"/>
<path d="M905,1352L915,1345L925,1368L912,1378Z" fill="#444"/>
<path d="M769,1222L800,1218L802,1236L771,1236Z" fill="url(#hatch2)"/>
<path d="M769,1260L802,1258L800,1278L771,1274Z" fill="#a8a8a8"/>
<ellipse cx="785" cy="1350" rx="3" ry="4" fill="#aaa"/>
<text x="825" y="1245" textLength="68" lengthAdjust="spacingAndGlyphs">CNTF</text>
<text x="825" y="1288" textLength="56" lengthAdjust="spacingAndGlyphs">Zn线</text>
<text x="831" y="1324" textLength="136" lengthAdjust="spacingAndGlyphs">凝胶电解质</text>
<text x="825" y="1365" textLength="78" lengthAdjust="spacingAndGlyphs">NiHCF</text>
<text x="852" y="1482" textLength="107" lengthAdjust="spacingAndGlyphs">日光环境</text>
<text x="1187" y="1488" textLength="108" lengthAdjust="spacingAndGlyphs">黑暗环境</text>
<text x="1360" y="1279" textLength="80" lengthAdjust="spacingAndGlyphs" style="fill:#fff;stroke:#fff">紫外光</text>
<text x="889" y="1555" textLength="468" lengthAdjust="spacingAndGlyphs">(g) 同轴结构的NiHCF||Zn可发光FAZIBs</text>
</g>
</svg>
</body></html>
